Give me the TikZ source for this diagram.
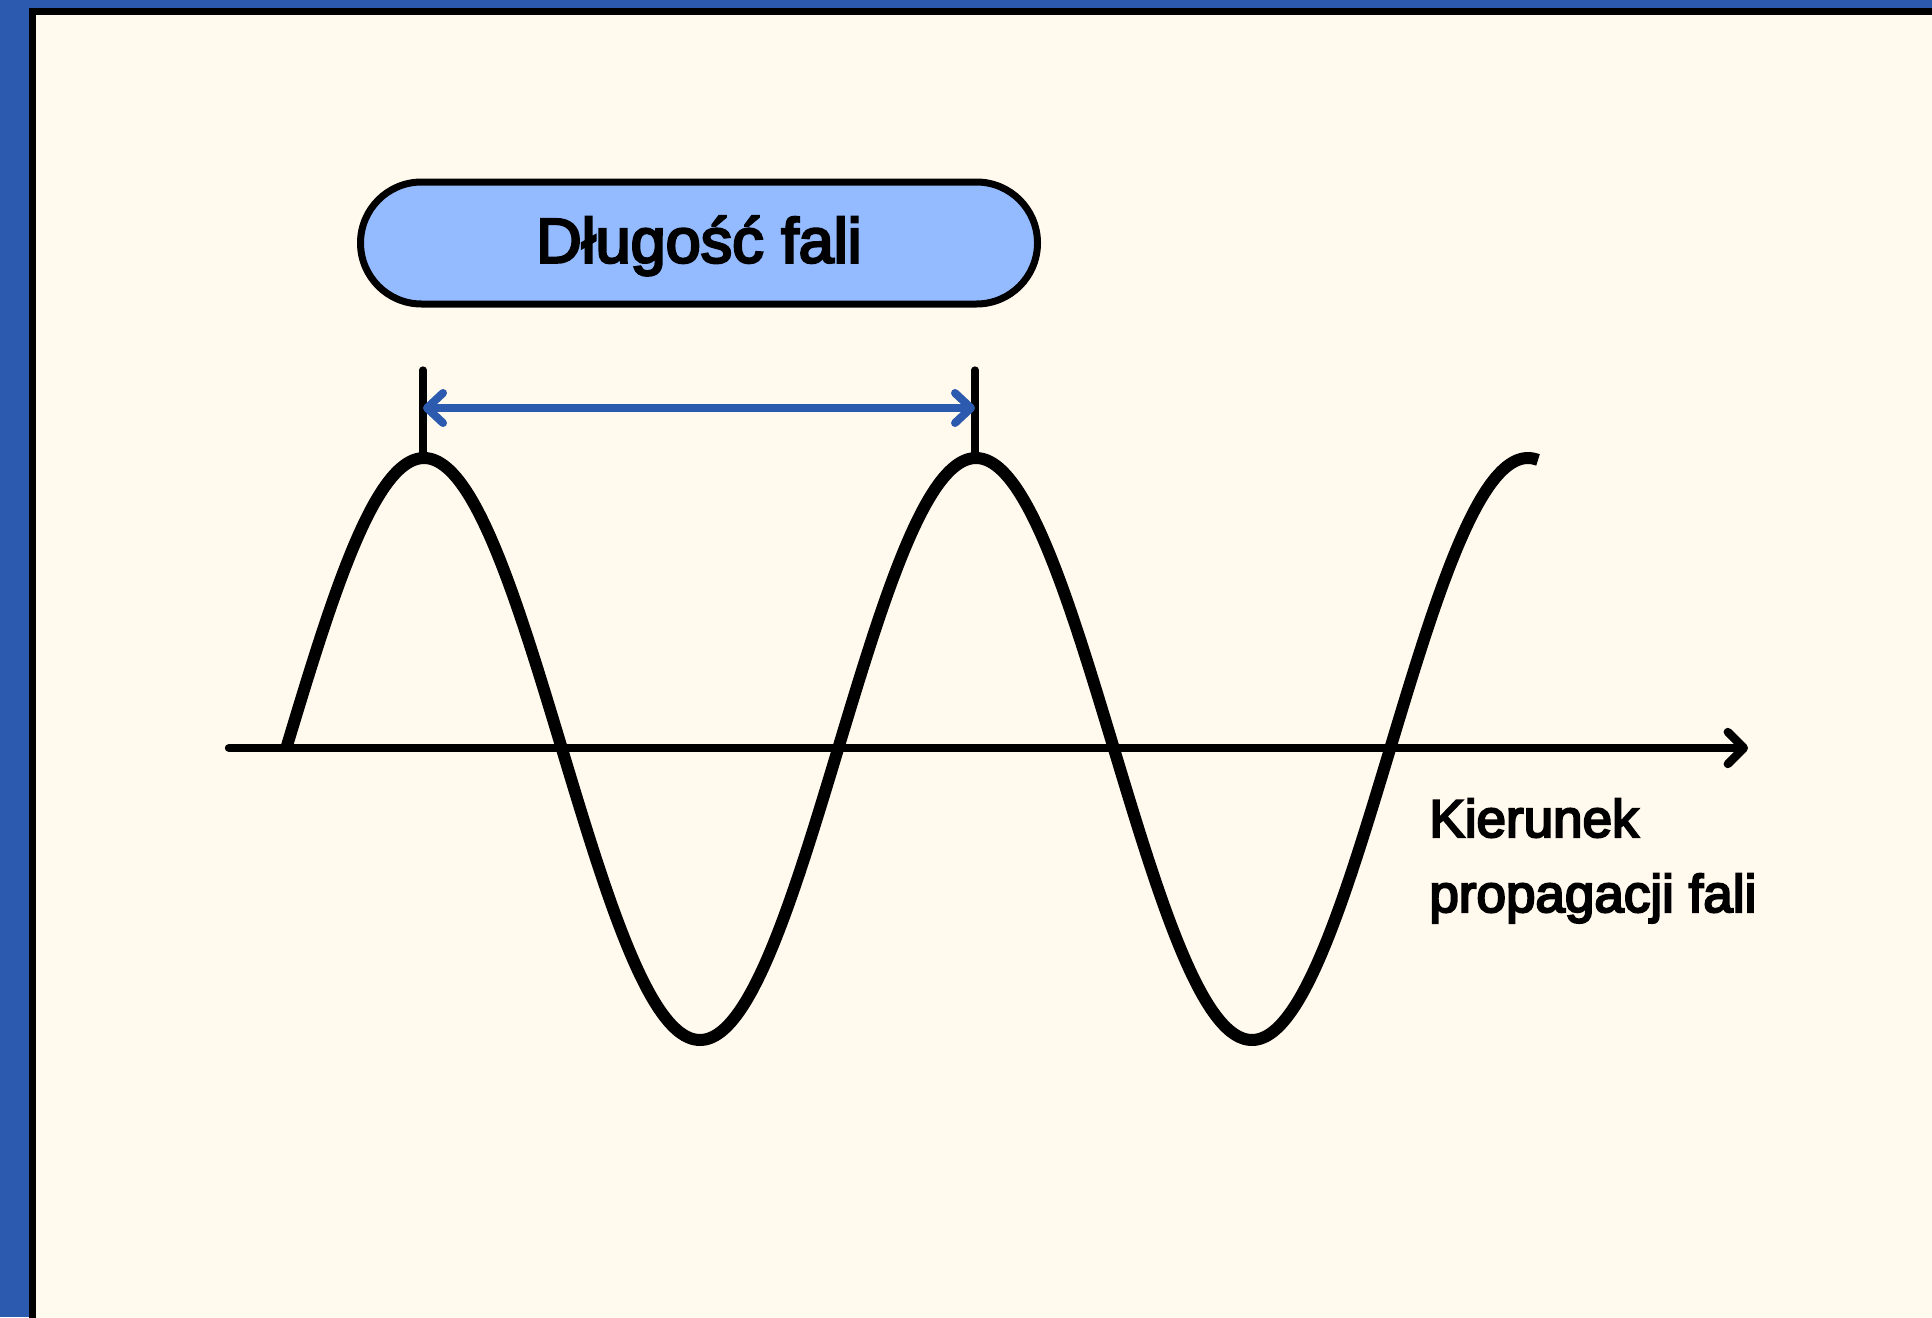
\documentclass[tikz,border=0pt]{standalone}
\usepackage{fontspec}
\setmainfont{Liberation Sans}
\newfontfamily\medfont[FakeBold=4]{Liberation Sans}
\usetikzlibrary{arrows.meta,shapes.misc}
\definecolor{frameblue}{HTML}{2B5AAE}
\definecolor{cream}{HTML}{FFF9EE}
\definecolor{pillblue}{HTML}{94BBFF}
\tikzset{
  pill/.style={rounded rectangle, draw=black, fill=pillblue, line width=3.5pt,
    minimum width=338.5pt, minimum height=61pt, inner sep=0pt,
    font=\medfont\fontsize{31.5pt}{36pt}\selectfont, text height=22.7pt, text depth=3.2pt},
  tickline/.style={line width=3.6pt, line cap=round},
  spanarrow/.style={frameblue, line width=4pt,
    {Straight Barb[length=8pt,width=15pt,round]}-{Straight Barb[length=8pt,width=15pt,round]}},
  axisline/.style={line width=4.2pt, line cap=round, -{Straight Barb[length=8pt,width=16pt,round]}},
  waveline/.style={line width=6pt},
  axislabel/.style={font=\medfont\fontsize{26.5pt}{37.5pt}\selectfont, align=left, inner sep=0pt}
}
\begin{document}
\begin{tikzpicture}[x=0.5pt,y=-0.5pt]
  \useasboundingbox (0,0) rectangle (1932,1317);
  \clip (0,0) rectangle (1932,1317);
  \fill[frameblue] (0,0) rectangle (1932,1317);
  \draw[line width=3.5pt, fill=cream] (32.5,11.5) rectangle (1990,1370);

  % title pill
  \node[pill] (title) at (699,243) {Długość fali};

  % ticks at the peaks
  \coordinate (t1top) at (423,370);
  \coordinate (t1bot) at (423,455);
  \coordinate (t2top) at (975,370);
  \coordinate (t2bot) at (975,455);
  \draw[tickline] (t1top) -- (t1bot);
  \draw[tickline] (t2top) -- (t2bot);

  % wavelength arrow
  \coordinate (a1) at (423,408);
  \coordinate (a2) at (975,408);
  \draw[spanarrow] (a1) -- (a2);

  % axis
  \coordinate (ax0) at (229,748);
  \coordinate (ax1) at (1748,748);
  \draw[axisline] (ax0) -- (ax1);

  % wave
  \draw[waveline] plot[smooth, domain=286:1538, samples=240]
    ({\x},{749-291*sin((\x-286)/552*360)});

  % axis label (base anchor = last line baseline)
  \node[axislabel, anchor=base west] (lbl) at (1429,912) {Kierunek\\propagacji fali};
\end{tikzpicture}
\end{document}
